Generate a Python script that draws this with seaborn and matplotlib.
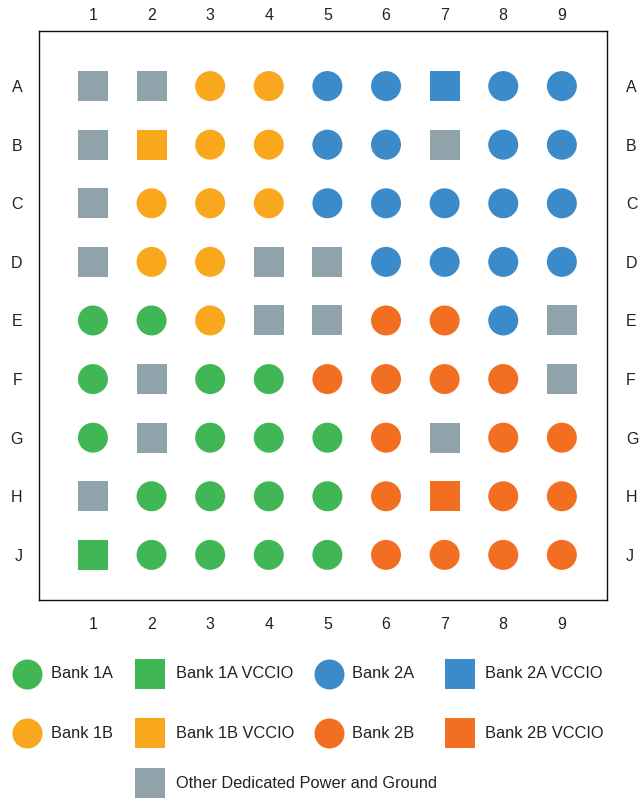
import matplotlib
matplotlib.use("Agg")
import matplotlib.pyplot as plt
import seaborn as sns
import pandas as pd

sns.set_style("white")
plt.rcParams['font.family'] = ['Liberation Sans', 'DejaVu Sans']

columns = [1, 2, 3, 4, 5, 6, 7, 8, 9]
rows = ["A", "B", "C", "D", "E", "F", "G", "H", "J"]

# G = Other dedicated power/ground; 1A/1B/2A/2B banks; V suffix = VCCIO
row_A = ["G", "G", "1B", "1B", "2A", "2A", "2AV", "2A", "2A"]
row_B = ["G", "1BV", "1B", "1B", "2A", "2A", "G", "2A", "2A"]
row_C = ["G", "1B", "1B", "1B", "2A", "2A", "2A", "2A", "2A"]
row_D = ["G", "1B", "1B", "G", "G", "2A", "2A", "2A", "2A"]
row_E = ["1A", "1A", "1B", "G", "G", "2B", "2B", "2A", "G"]
row_F = ["1A", "G", "1A", "1A", "2B", "2B", "2B", "2B", "G"]
row_G = ["1A", "G", "1A", "1A", "1A", "2B", "G", "2B", "2B"]
row_H = ["G", "1A", "1A", "1A", "1A", "2B", "2BV", "2B", "2B"]
row_J = ["1AV", "1A", "1A", "1A", "1A", "2B", "2B", "2B", "2B"]
grid = [row_A, row_B, row_C, row_D, row_E, row_F, row_G, row_H, row_J]

categories = ["1A", "1AV", "2A", "2AV", "1B", "1BV", "2B", "2BV", "G"]
labels = ["Bank 1A", "Bank 1A VCCIO", "Bank 2A", "Bank 2A VCCIO",
          "Bank 1B", "Bank 1B VCCIO", "Bank 2B", "Bank 2B VCCIO",
          "Other Dedicated Power and Ground"]

GREEN = "#41b655"
ORANGE = "#f9a81e"
BLUE = "#3b8ac9"
RED = "#f26f22"
GRAY = "#90a3aa"
palette = {"1A": GREEN, "1AV": GREEN, "1B": ORANGE, "1BV": ORANGE,
           "2A": BLUE, "2AV": BLUE, "2B": RED, "2BV": RED, "G": GRAY}
markers = {"1A": "o", "1AV": "s", "1B": "o", "1BV": "s",
           "2A": "o", "2AV": "s", "2B": "o", "2BV": "s", "G": "s"}

recs = []
for ri, r in enumerate(rows):
    for ci, c in enumerate(columns):
        recs.append({"col": c, "row": ri, "cat": grid[ri][ci]})
df = pd.DataFrame(recs)

W, H = 639, 798
fig = plt.figure(figsize=(W / 100, H / 100), dpi=100)
ax = fig.add_axes([39 / W, 1 - 600 / H, (607 - 39) / W, (600 - 31) / H])

msize = 21.6 ** 2
sns.scatterplot(data=df, x="col", y="row", hue="cat", style="cat",
                palette=palette, markers=markers, s=msize, linewidth=0,
                legend=False, ax=ax)

ax.set_xlim(0.08, 9.77)
ax.set_ylim(8.77, -0.94)
ax.set_xticks(columns)
ax.set_xticklabels([str(c) for c in columns])
ax.set_yticks(range(len(rows)))
ax.set_yticklabels(rows)
ax.set_xlabel("")
ax.set_ylabel("")
TICK_FS = 11.5
TICK_C = "#222222"
ax.tick_params(axis="x", length=0, labelsize=TICK_FS, labelcolor=TICK_C, pad=12.5)
ax.tick_params(axis="y", length=0, labelsize=TICK_FS, labelcolor=TICK_C, pad=12)

top = ax.secondary_xaxis("top")
top.set_xticks(columns)
top.set_xticklabels([str(c) for c in columns])
top.tick_params(length=0, labelsize=TICK_FS, labelcolor=TICK_C, pad=6)
top.spines["top"].set_visible(False)

right = ax.secondary_yaxis("right")
right.set_yticks(range(len(rows)))
right.set_yticklabels(rows)
right.tick_params(length=0, labelsize=TICK_FS, labelcolor=TICK_C, pad=13.5)
right.spines["right"].set_visible(False)

for spine in ax.spines.values():
    spine.set_visible(True)
    spine.set_color("#111111")
    spine.set_linewidth(1.0)

# Legend drawn on a full-figure overlay in pixel coordinates
lax = fig.add_axes([0, 0, 1, 1])
lax.set_xlim(0, W)
lax.set_ylim(H, 0)
lax.axis("off")
LEG_FS = 11.8
leg_mx = [27, 150, 329, 460]
leg_tx = [51, 176, 352, 485]
leg_y = [674, 733]
order = [["1A", "1AV", "2A", "2AV"], ["1B", "1BV", "2B", "2BV"]]
for ri, rcats in enumerate(order):
    for ci, cat in enumerate(rcats):
        lax.scatter([leg_mx[ci]], [leg_y[ri]], s=msize, marker=markers[cat],
                    color=palette[cat], linewidth=0)
        lax.text(leg_tx[ci], leg_y[ri], labels[categories.index(cat)],
                 va="center", ha="left", fontsize=LEG_FS, color="#222222")
lax.scatter([150], [783], s=msize, marker="s", color=GRAY, linewidth=0, clip_on=False)
lax.text(176, 783, labels[-1], va="center", ha="left", fontsize=LEG_FS, color="#222222")

fig.savefig("out.png", dpi=100)
